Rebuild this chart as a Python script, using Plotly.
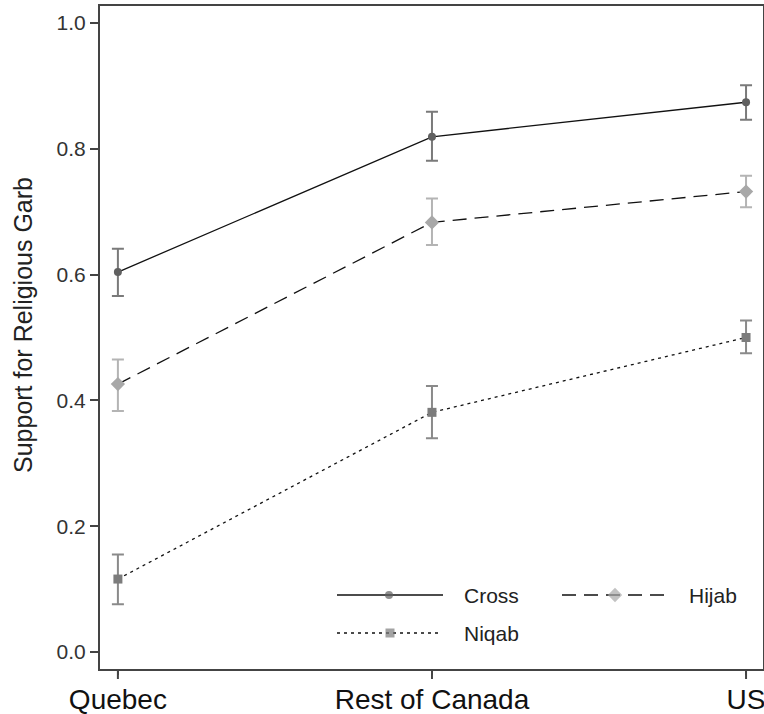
import plotly.graph_objects as go

regions = ["Quebec", "Rest of Canada", "US"]
y_ticks = [0.0, 0.2, 0.4, 0.6, 0.8, 1.0]
y_tick_labels = ["0.0", "0.2", "0.4", "0.6", "0.8", "1.0"]

cross = [0.604, 0.819, 0.874]
cross_lo = [0.566, 0.781, 0.846]
cross_hi = [0.641, 0.859, 0.901]

hijab = [0.426, 0.683, 0.732]
hijab_lo = [0.383, 0.647, 0.707]
hijab_hi = [0.465, 0.721, 0.757]

niqab = [0.116, 0.381, 0.500]
niqab_lo = [0.076, 0.340, 0.475]
niqab_hi = [0.155, 0.423, 0.527]

FONT = "Liberation Sans, Arial, Helvetica, sans-serif"
PLOT_H = 663

series = [
    ("Cross", cross, cross_lo, cross_hi, "solid", "circle", 8, "#606060", "#7a7a7a"),
    ("Hijab", hijab, hijab_lo, hijab_hi, "14px,8px", "diamond", 11, "#a8a8a8", "#b4b4b4"),
    ("Niqab", niqab, niqab_lo, niqab_hi, "3px,4px", "square", 9, "#7c7c7c", "#8a8a8a"),
]

fig = go.Figure()
xi = list(range(len(regions)))
for name, v, lo, hi, dash, sym, size, mcol, ecol in series:
    fig.add_trace(go.Scatter(
        x=xi, y=v, name=name, mode="lines+markers", showlegend=False,
        line=dict(color="#111111", width=1.3, dash=dash),
        marker=dict(symbol=sym, size=size, color=mcol, line=dict(width=0)),
        error_y=dict(type="data", symmetric=False,
                     array=[h - m for h, m in zip(hi, v)],
                     arrayminus=[m - l for m, l in zip(v, lo)],
                     color=ecol, thickness=2, width=6),
    ))

# custom legend on an overlay axis in pixel-like units
legend_pos = {
    "Cross": (337, 443, 389, 595, 462),
    "Hijab": (562, 668, 615, 595, 687),
    "Niqab": (337, 440, 390, 633, 462),
}
for name, v, lo, hi, dash, sym, size, mcol, ecol in series:
    x0, x1, xm, yy, xt = legend_pos[name]
    fig.add_trace(go.Scatter(
        x=[x0, xm, x1], y=[yy, yy, yy], mode="lines+markers", showlegend=False,
        xaxis="x2", yaxis="y2", hoverinfo="skip",
        line=dict(color="#111111", width=1.3, dash=dash),
        marker=dict(symbol=sym, size=[0, size, 0], color=mcol, line=dict(width=0)),
    ))
    fig.add_annotation(x=xt, y=yy, xref="x2", yref="y2", text=name, showarrow=False,
                       xanchor="left", yanchor="middle",
                       font=dict(family=FONT, size=21, color="#222222"))

# y-axis title
fig.add_annotation(x=(23 - 100) / 663, y=(669 - 325) / PLOT_H, xref="paper", yref="paper",
                   text="Support for Religious Garb",
                   showarrow=False, textangle=-90, xanchor="center", yanchor="middle",
                   font=dict(family=FONT, size=25, color="#222222"))

# longer x tick marks (labels sit close to the axis as in the reference)
for x in xi:
    fig.add_shape(type="line", xref="x", yref="paper", x0=x, x1=x,
                  y0=0, y1=-10 / PLOT_H, line=dict(color="#444444", width=2))

fig.update_layout(
    width=764, height=714,
    margin=dict(l=100, r=1, t=6, b=45, autoexpand=False),
    paper_bgcolor="white", plot_bgcolor="white",
    showlegend=False,
    font=dict(family=FONT, color="#222222"),
    xaxis=dict(
        range=[-0.057, 2.054], tickvals=xi, ticktext=regions,
        showgrid=False, zeroline=False, automargin=False,
        showline=True, linecolor="#444444", linewidth=2, mirror=True,
        ticks="outside", ticklen=4, tickwidth=2, tickcolor="#444444",
        ticklabeloverflow="allow",
        tickfont=dict(family=FONT, size=28, color="#111111"),
    ),
    yaxis=dict(
        range=[-0.027, 1.027], tickvals=y_ticks, ticktext=y_tick_labels,
        showgrid=False, zeroline=False, automargin=False,
        showline=True, linecolor="#444444", linewidth=2, mirror=True,
        ticks="outside", ticklen=8, tickwidth=2, tickcolor="#444444",
        tickfont=dict(family=FONT, size=21, color="#333333"),
    ),
    xaxis2=dict(range=[100, 763], overlaying="x", visible=False, fixedrange=True),
    yaxis2=dict(range=[669, 6], overlaying="y", visible=False, fixedrange=True),
)

fig.write_html("out.html", config={"displayModeBar": False},
               post_script="document.body.style.margin='0px';")
